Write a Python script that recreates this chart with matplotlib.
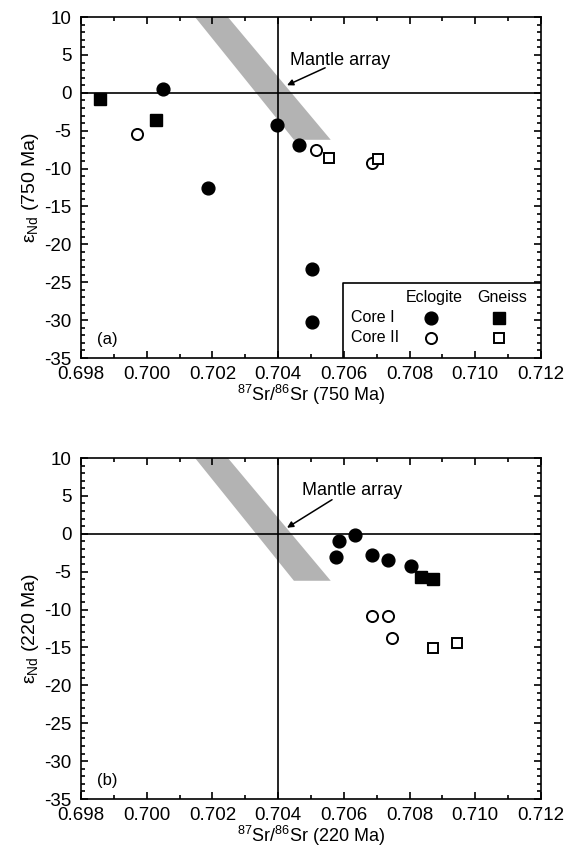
import matplotlib
matplotlib.use("Agg")
import matplotlib.pyplot as plt
from matplotlib.ticker import MultipleLocator

plt.rcParams['font.family'] = ['Liberation Sans', 'DejaVu Sans']
plt.rcParams['mathtext.fontset'] = 'custom'
plt.rcParams['mathtext.rm'] = 'Liberation Sans'
plt.rcParams['mathtext.it'] = 'Liberation Sans'
plt.rcParams['axes.unicode_minus'] = False

# (a) 750 Ma
a_ecl1_sr = [0.70050, 0.70187, 0.70397, 0.70464, 0.70503, 0.70503]
a_ecl1_nd = [0.5, -12.5, -4.3, -6.9, -23.2, -30.2]
a_ecl2_sr = [0.69970, 0.70515, 0.70686]
a_ecl2_nd = [-5.5, -7.5, -9.3]
a_gn1_sr = [0.69858, 0.70028]
a_gn1_nd = [-0.8, -3.6]
a_gn2_sr = [0.70555, 0.70704]
a_gn2_nd = [-8.6, -8.8]

# (b) 220 Ma
b_ecl1_sr = [0.70576, 0.70585, 0.70634, 0.70686, 0.70735, 0.70805]
b_ecl1_nd = [-3.1, -1.0, -0.2, -2.8, -3.5, -4.3]
b_ecl2_sr = [0.70686, 0.70735, 0.70747]
b_ecl2_nd = [-10.8, -10.8, -13.7]
b_gn1_sr = [0.70835, 0.70872]
b_gn1_nd = [-5.7, -6.0]
b_gn2_sr = [0.70872, 0.70945]
b_gn2_nd = [-15.1, -14.4]

# mantle array band
band_sr = [0.70147, 0.70247, 0.70560, 0.70448]
band_nd = [10, 10, -6.2, -6.2]

# mantle array label: text position, arrow tail, arrow tip (per panel)
a_label = (0.70436, 4.3)
a_tail, a_tip = (0.70543, 3.3), (0.70427, 1.0)
b_label = (0.70473, 5.7)
b_tail, b_tip = (0.70564, 4.5), (0.70427, 0.8)

fig = plt.figure(figsize=(5.65, 8.65), dpi=100)
ax1 = fig.add_axes([0.1434, 0.5861, 0.8141, 0.3942])
ax2 = fig.add_axes([0.1434, 0.0763, 0.8141, 0.3942])

ms_c, ms_s = 9.2, 8.6
panels = [
    (ax1, a_ecl1_sr, a_ecl1_nd, a_ecl2_sr, a_ecl2_nd, a_gn1_sr, a_gn1_nd,
     a_gn2_sr, a_gn2_nd, '750 Ma', '(a)', a_label, a_tail, a_tip),
    (ax2, b_ecl1_sr, b_ecl1_nd, b_ecl2_sr, b_ecl2_nd, b_gn1_sr, b_gn1_nd,
     b_gn2_sr, b_gn2_nd, '220 Ma', '(b)', b_label, b_tail, b_tip),
]
for (ax, e1x, e1y, e2x, e2y, g1x, g1y, g2x, g2y, age, tag,
     lab, tail, tip) in panels:
    ax.fill(band_sr, band_nd, color='#b3b3b3', lw=0, zorder=1)
    ax.axhline(0, color='black', lw=1.2, zorder=2)
    ax.axvline(0.704, color='black', lw=1.2, zorder=2)
    ax.plot(e1x, e1y, 'o', color='black', ms=ms_c, zorder=3)
    ax.plot(e2x, e2y, 'o', mfc='white', mec='black', mew=1.4, ms=ms_c - 1.2,
            zorder=3)
    ax.plot(g1x, g1y, 's', color='black', ms=ms_s, zorder=3)
    ax.plot(g2x, g2y, 's', mfc='white', mec='black', mew=1.4, ms=ms_s - 1.4,
            zorder=3)
    ax.text(lab[0], lab[1], 'Mantle array', fontsize=13, ha='left',
            va='center')
    ax.annotate('', xy=tip, xytext=tail,
                arrowprops=dict(arrowstyle='-|>', color='black', lw=1.1,
                                mutation_scale=9, shrinkA=0, shrinkB=0))
    ax.text(0.6985, -32.6, tag, fontsize=12, ha='left', va='center')
    ax.set_xlim(0.698, 0.712)
    ax.set_ylim(-35, 10)
    ax.xaxis.set_major_locator(MultipleLocator(0.002))
    ax.xaxis.set_minor_locator(MultipleLocator(0.001))
    ax.yaxis.set_major_locator(MultipleLocator(5))
    ax.yaxis.set_minor_locator(MultipleLocator(1))
    ax.xaxis.set_major_formatter(plt.FuncFormatter(lambda v, p: '%.3f' % v))
    ax.tick_params(which='both', direction='in', top=True, right=True,
                   labelsize=13.5)
    ax.tick_params(axis='x', pad=6)
    ax.tick_params(axis='y', pad=7)
    ax.tick_params(which='major', length=5, width=1.2)
    ax.tick_params(which='minor', length=3, width=1.2)
    for s in ax.spines.values():
        s.set_linewidth(1.2)
    ax.set_xlabel(r'$^{87}$Sr/$^{86}$Sr (' + age + ')', fontsize=13,
                  labelpad=0)
    ax.set_ylabel(r'$\varepsilon_{\mathregular{Nd}}$ (' + age + ')',
                  fontsize=14, labelpad=2)

# legend box in panel (a)
lx0, lx1, ly = 0.70598, 0.712, -25.1
ax1.plot([lx0, lx0, lx1], [-35, ly, ly], color='black', lw=1.2, zorder=4)
ax1.text(0.70875, -27.0, 'Eclogite', fontsize=11.5, ha='center', va='center')
ax1.text(0.71082, -27.0, 'Gneiss', fontsize=11.5, ha='center', va='center')
ax1.text(0.70622, -29.7, 'Core I', fontsize=11.5, ha='left', va='center')
ax1.text(0.70622, -32.3, 'Core II', fontsize=11.5, ha='left', va='center')
ax1.plot([0.70865], [-29.7], 'o', color='black', ms=ms_c)
ax1.plot([0.70865], [-32.3], 'o', mfc='white', mec='black', mew=1.4,
         ms=ms_c - 1.2)
ax1.plot([0.71072], [-29.7], 's', color='black', ms=ms_s)
ax1.plot([0.71072], [-32.3], 's', mfc='white', mec='black', mew=1.4,
         ms=ms_s - 1.4)

fig.savefig('out.png', dpi=100)
